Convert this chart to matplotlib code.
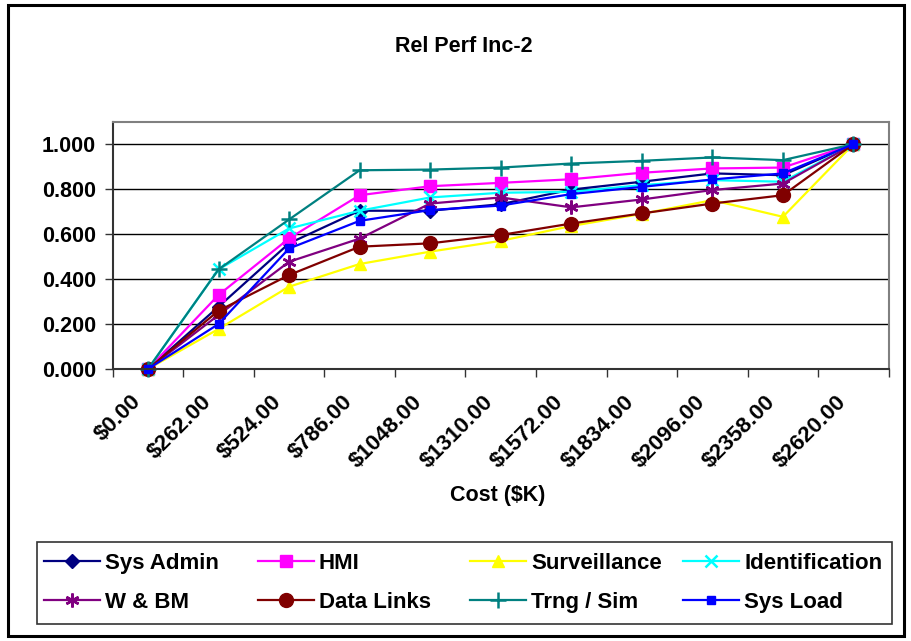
import matplotlib
matplotlib.use("Agg")
import matplotlib.pyplot as plt
import matplotlib.transforms as mtransforms
from matplotlib.patches import Rectangle
from matplotlib.lines import Line2D

plt.rcParams['font.family'] = ['Liberation Sans', 'DejaVu Sans']
plt.rcParams['font.weight'] = 'bold'

categories = ["$0.00", "$262.00", "$524.00", "$786.00", "$1048.00", "$1310.00",
              "$1572.00", "$1834.00", "$2096.00", "$2358.00", "$2620.00"]

sys_admin = [0, 0.277, 0.559, 0.704, 0.704, 0.733, 0.798, 0.833, 0.870, 0.862, 1.0]
hmi = [0, 0.329, 0.581, 0.773, 0.813, 0.828, 0.844, 0.873, 0.892, 0.896, 1.0]
surveillance = [0, 0.178, 0.366, 0.467, 0.522, 0.570, 0.636, 0.690, 0.751, 0.677, 1.0]
identification = [0, 0.443, 0.625, 0.704, 0.763, 0.784, 0.788, 0.818, 0.840, 0.833, 1.0]
wbm = [0, 0.240, 0.477, 0.580, 0.736, 0.763, 0.719, 0.754, 0.796, 0.825, 1.0]
data_links = [0, 0.259, 0.418, 0.544, 0.559, 0.596, 0.647, 0.692, 0.736, 0.773, 1.0]
trng_sim = [0, 0.443, 0.665, 0.884, 0.887, 0.896, 0.914, 0.926, 0.941, 0.929, 1.0]
sys_load = [0, 0.200, 0.536, 0.659, 0.707, 0.727, 0.778, 0.810, 0.843, 0.870, 1.0]

series = [
    ("Sys Admin", sys_admin, "#000080", "D", 7),
    ("HMI", hmi, "#FF00FF", "s", 9),
    ("Surveillance", surveillance, "#FFFF00", "^", 9),
    ("Identification", identification, "#00FFFF", "x", 9),
    ("W & BM", wbm, "#800080", (6, 2, 0), 10),
    ("Data Links", data_links, "#800000", "o", 10),
    ("Trng / Sim", trng_sim, "#008080", "+", 11),
    ("Sys Load", sys_load, "#0000FF", "s", 6),
]

W, H = 911, 641
fig = plt.figure(figsize=(W / 100, H / 100), dpi=100)
fig.patch.set_facecolor("white")

# outer border
fig.patches.append(Rectangle((7.5 / W, 5.5 / H), (904 - 7.5) / W, (636 - 5.5) / H,
                             transform=fig.transFigure, fill=False,
                             edgecolor="black", linewidth=2.2))

left, right, top, bottom = 112.7, 888.7, 121.7, 369.0
ax = fig.add_axes([left / W, 1 - bottom / H, (right - left) / W, (bottom - top) / H])

x = list(range(len(categories)))
styles = {}
for name, vals, color, marker, ms in series:
    mew = 1.8 if marker in ("x", "+") or isinstance(marker, tuple) else 1.0
    ax.plot(x, vals, color=color, marker=marker, markersize=ms,
            markerfacecolor=color, markeredgecolor=color, markeredgewidth=mew,
            linewidth=1.6, label=name, clip_on=False)
    styles[name] = (color, marker, ms, mew)

ax.set_xlim(-0.5, len(categories) - 0.5)
ax.set_ylim(0, 1.1)
yt = [0, 0.2, 0.4, 0.6, 0.8, 1.0]
ax.set_yticks(yt)
ax.set_yticklabels([f"{v:.3f}" for v in yt], fontsize=15.5, fontweight="bold")
ax.yaxis.grid(True, color="black", linewidth=1.0)
ax.set_axisbelow(True)

ax.set_xticks(x)
ax.set_xticklabels(categories, rotation=45, ha="right", va="top",
                   rotation_mode="anchor", fontsize=16, fontweight="bold")
ax.tick_params(axis="x", which="major", length=0, pad=16)
offset = mtransforms.ScaledTranslation(-18 / 100, 0, fig.dpi_scale_trans)
for lbl in ax.get_xticklabels():
    lbl.set_transform(lbl.get_transform() + offset)
ax.set_xticks([i - 0.5 for i in range(len(categories) + 1)], minor=True)
ax.tick_params(axis="x", which="minor", length=6, width=1.0, color="#333333", direction="out")
ax.tick_params(axis="y", length=6, width=1.0, color="#333333", direction="out", pad=6)

for s in ("top", "right"):
    ax.spines[s].set_color("#808080")
    ax.spines[s].set_linewidth(1.5)
for s in ("left", "bottom"):
    ax.spines[s].set_color("#333333")
    ax.spines[s].set_linewidth(1.5)

fig.text(464 / W, 1 - 46 / H, "Rel Perf Inc-2", ha="center", va="center",
         fontsize=15.5, fontweight="bold")
fig.text(498 / W, 1 - 495 / H, "Cost ($K)", ha="center", va="center",
         fontsize=15.5, fontweight="bold")

# legend (Excel-style equal columns)
fig.patches.append(Rectangle((37 / W, 1 - 624 / H), (892 - 37) / W, (624 - 542) / H,
                             transform=fig.transFigure, fill=False,
                             edgecolor="#333333", linewidth=1.2))
rows = [["Sys Admin", "HMI", "Surveillance", "Identification"],
        ["W & BM", "Data Links", "Trng / Sim", "Sys Load"]]
col_x = [44, 258, 470, 683]
row_y = [561, 600]
for r, names in enumerate(rows):
    for c, name in enumerate(names):
        color, marker, ms, mew = styles[name]
        x0, x1, yy = col_x[c], col_x[c] + 56, row_y[r]
        fig.add_artist(Line2D([x0 / W, x1 / W], [1 - yy / H, 1 - yy / H],
                              transform=fig.transFigure, color=color, linewidth=1.6))
        fig.add_artist(Line2D([(x0 + x1) / 2 / W], [1 - yy / H],
                              transform=fig.transFigure, color=color, linestyle="none",
                              marker=marker, markersize=ms, markerfacecolor=color,
                              markeredgecolor=color, markeredgewidth=mew))
        fig.text((x1 + 5) / W, 1 - yy / H, name, ha="left", va="center_baseline",
                 fontsize=16, fontweight="bold")

fig.savefig("out.png", dpi=100)
